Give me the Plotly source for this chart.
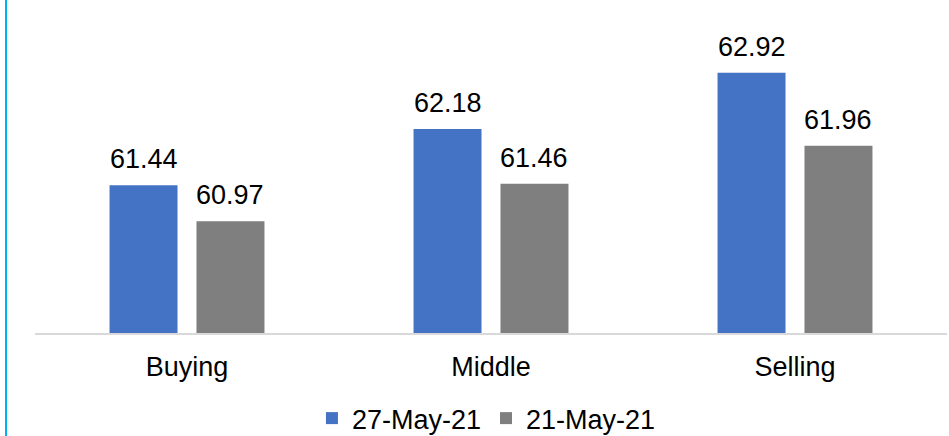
import plotly.graph_objects as go

# Exchange-rate quotes for the two dates
categories = ["Buying", "Middle", "Selling"]
rates_27_may = [61.44, 62.18, 62.92]
rates_21_may = [60.97, 61.46, 61.96]
series_names = ["27-May-21", "21-May-21"]
series_colors = ["#4472C4", "#7F7F7F"]

FONT = "Liberation Sans, Arial, sans-serif"

fig = go.Figure()
for name, vals, color in zip(series_names, [rates_27_may, rates_21_may], series_colors):
    fig.add_trace(go.Bar(
        x=categories, y=vals, name=name,
        marker=dict(color=color, line=dict(width=0)),
    ))

# Value labels above each bar
offsets = [-0.143, 0.143]
for off, vals in zip(offsets, [rates_27_may, rates_21_may]):
    for i, v in enumerate(vals):
        fig.add_annotation(
            x=i + off, y=v, xref="x", yref="y",
            text=f"{v:.2f}", showarrow=False,
            yanchor="bottom", yshift=9,
            font=dict(family=FONT, size=27, color="#000000"),
        )

# Thin accent rule down the left edge
fig.add_shape(type="line", xref="paper", yref="paper",
              x0=-0.0318, x1=-0.0318, y0=-0.5, y1=1.1,
              line=dict(color="#00B0F0", width=2))

fig.update_layout(
    width=949, height=436,
    margin=dict(l=35, r=2, t=0, b=103, autoexpand=False),
    plot_bgcolor="white", paper_bgcolor="white",
    barmode="group", bargap=0.428, bargroupgap=0.218,
    font=dict(family=FONT, size=27, color="#000000"),
    showlegend=True,
    legend=dict(orientation="h", x=0.495, xanchor="center",
                yref="container", y=0.04, yanchor="middle",
                font=dict(family=FONT, size=27, color="#000000"),
                itemwidth=30, tracegroupgap=0),
)
fig.update_xaxes(showline=True, linecolor="#D9D9D9", linewidth=2,
                 ticks="", ticklabelstandoff=9,
                 tickfont=dict(family=FONT, size=27, color="#000000"))
fig.update_yaxes(range=[59.5, 63.876], visible=False, showgrid=False, zeroline=False)

fig.write_html("out.html")
